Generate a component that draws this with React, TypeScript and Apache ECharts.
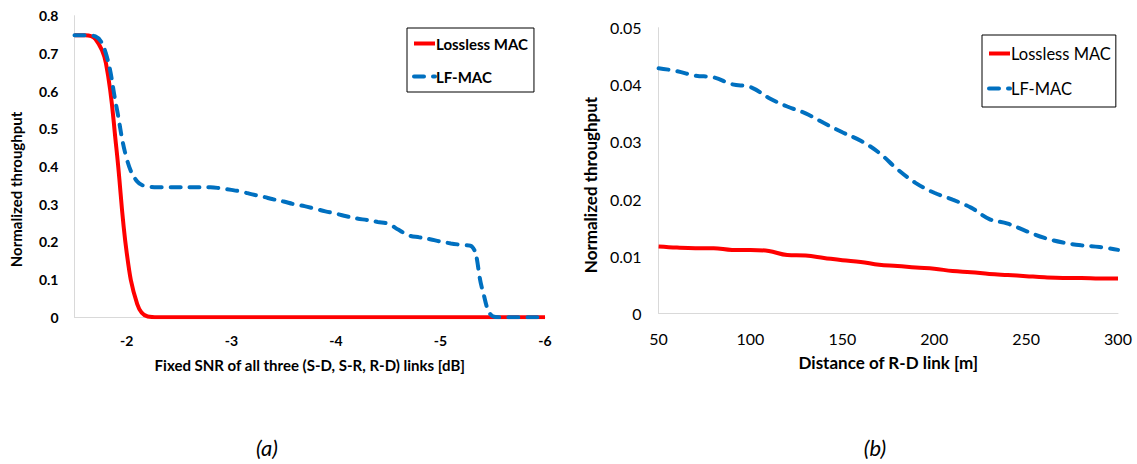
import React, { useEffect, useRef } from "react";
import * as echarts from "echarts";

// ---- Data: chart (a) ----
const snrDb = [
  -1.5, -1.6, -1.7, -1.8, -1.9, -2.0, -2.1, -2.2, -2.3, -2.4,
  -2.5, -2.6, -2.7, -2.8, -2.9, -3.0, -3.1, -3.2, -3.3, -3.4,
  -3.5, -3.6, -3.7, -3.8, -3.9, -4.0, -4.1, -4.2, -4.3, -4.4,
  -4.5, -4.6, -4.7, -4.8, -4.9, -5.0, -5.1, -5.2, -5.3, -5.4,
  -5.5, -5.6, -5.7, -5.8, -5.9, -6.0,
];
const losslessA = [
  0.748, 0.748, 0.738, 0.675, 0.45, 0.17, 0.035, 0.002, 0, 0,
  0, 0, 0, 0, 0, 0, 0, 0, 0, 0,
  0, 0, 0, 0, 0, 0, 0, 0, 0, 0,
  0, 0, 0, 0, 0, 0, 0, 0, 0, 0,
  0, 0, 0, 0, 0, 0,
];
const lfmacA = [
  0.748, 0.748, 0.745, 0.7, 0.56, 0.42, 0.36, 0.347, 0.345, 0.345,
  0.345, 0.345, 0.345, 0.345, 0.342, 0.338, 0.333, 0.326, 0.32, 0.313,
  0.307, 0.3, 0.295, 0.288, 0.281, 0.275, 0.268, 0.262, 0.258, 0.253,
  0.248, 0.232, 0.217, 0.212, 0.207, 0.201, 0.196, 0.192, 0.188, 0.075,
  0.003, 0, 0, 0, 0, 0,
];

// ---- Data: chart (b) ----
const distanceM = [
  50, 60, 70, 80, 90, 100, 110, 120, 130, 140, 150, 160, 170,
  180, 190, 200, 210, 220, 230, 240, 250, 260, 270, 280, 290, 300,
];
const losslessB = [
  0.0117, 0.0115, 0.0114, 0.0114, 0.0111, 0.0111, 0.0109, 0.0102, 0.0101,
  0.0097, 0.0093, 0.009, 0.0085, 0.0083, 0.008, 0.0078, 0.0074, 0.0072,
  0.0069, 0.0067, 0.0065, 0.0063, 0.0062, 0.0062, 0.0061, 0.0061,
];
const lfmacB = [
  0.0429, 0.0424, 0.0416, 0.0413, 0.0401, 0.0396, 0.0377, 0.0362, 0.035,
  0.0333, 0.0317, 0.0302, 0.0281, 0.0252, 0.0228, 0.0211, 0.0199, 0.0185,
  0.0165, 0.0157, 0.0144, 0.0132, 0.0124, 0.0119, 0.0116, 0.0111,
];

const seriesNames = ["Lossless MAC", "LF-MAC"];
const captions = ["(a)", "(b)"];
const yTitle = "Normalized throughput";
const xTitleA = "Fixed SNR of all three (S-D, S-R, R-D) links [dB]";
const xTitleB = "Distance of R-D link [m]";

const RED = "#FF0000";
const BLUE = "#0070C0";
const AXIS_GRAY = "#D9D9D9";
const FONT = "Lato";

const pairs = (xs: number[], ys: number[]) => xs.map((x, i) => [x, ys[i]]);

export default function App() {
  const ref = useRef<HTMLDivElement>(null);

  useEffect(() => {
    if (!ref.current) return;
    const chart = echarts.init(ref.current, null, { renderer: "svg" });

    const redLine = { color: RED, width: 4 };
    const blueLine = { color: BLUE, width: 4, type: [10, 9], cap: "round" };
    const hiddenSymbol = { color: "transparent", borderWidth: 0, opacity: 0 };

    chart.setOption({
      animation: false,
      backgroundColor: "#fff",
      textStyle: { fontFamily: FONT },
      grid: [
        { left: 74.5, top: 15.7, width: 470.5, height: 301.6 },
        { left: 658.6, top: 27.7, width: 459.4, height: 285.6 },
      ],
      xAxis: [
        {
          gridIndex: 0,
          type: "value",
          inverse: true,
          min: -6,
          max: -1.5,
          interval: 1,
          axisLine: { lineStyle: { color: AXIS_GRAY, width: 1 } },
          axisTick: { show: false },
          splitLine: { show: false },
          axisLabel: {
            margin: 16,
            fontFamily: FONT,
            fontSize: 14,
            fontWeight: "bold",
            color: "#000",
            formatter: (v: number) => (Number.isInteger(v) ? String(v) : ""),
          },
          name: xTitleA,
          nameLocation: "middle",
          nameGap: 40,
          nameTextStyle: { fontFamily: FONT, fontSize: 15, fontWeight: "bold", color: "#000" },
        },
        {
          gridIndex: 1,
          type: "value",
          min: 50,
          max: 300,
          interval: 50,
          axisLine: { lineStyle: { color: AXIS_GRAY, width: 1 } },
          axisTick: { show: false },
          splitLine: { show: false },
          axisLabel: { margin: 17, fontFamily: FONT, fontSize: 16, color: "#000" },
          name: xTitleB,
          nameLocation: "middle",
          nameGap: 41,
          nameTextStyle: { fontFamily: FONT, fontSize: 17, fontWeight: "bold", color: "#000" },
        },
      ],
      yAxis: [
        {
          gridIndex: 0,
          type: "value",
          min: 0,
          max: 0.8,
          interval: 0.1,
          axisLine: { show: true, lineStyle: { color: AXIS_GRAY, width: 1 } },
          axisTick: { show: false },
          splitLine: { show: false },
          axisLabel: { margin: 16, fontFamily: FONT, fontSize: 14, fontWeight: "bold", color: "#000" },
        },
        {
          gridIndex: 1,
          type: "value",
          min: 0,
          max: 0.05,
          interval: 0.01,
          axisLine: { show: true, lineStyle: { color: AXIS_GRAY, width: 1 } },
          axisTick: { show: false },
          splitLine: { show: false },
          axisLabel: { margin: 17, fontFamily: FONT, fontSize: 16, color: "#000" },
        },
      ],
      legend: [
        {
          data: seriesNames,
          orient: "vertical",
          left: 407,
          top: 28,
          padding: [8, 6, 8, 5],
          itemGap: 18,
          itemWidth: 21,
          itemHeight: 14,
          borderColor: "#000",
          borderWidth: 1,
          selectedMode: false,
          itemStyle: hiddenSymbol,
          lineStyle: { width: 4 },
          textStyle: {
            fontFamily: FONT,
            fontSize: 15,
            fontWeight: "bold",
            color: "#000",
            padding: [0, 0, 0, -4],
          },
        },
        {
          data: seriesNames,
          orient: "vertical",
          left: 982,
          top: 35,
          padding: [10, 5, 10, 5],
          itemGap: 18,
          itemWidth: 21,
          itemHeight: 16,
          borderColor: "#000",
          borderWidth: 1,
          selectedMode: false,
          itemStyle: hiddenSymbol,
          lineStyle: { width: 4 },
          textStyle: {
            fontFamily: FONT,
            fontSize: 16.5,
            color: "#000",
            padding: [0, 0, 0, -4],
          },
        },
      ],
      graphic: [
        {
          type: "text",
          x: 16,
          y: 189.5,
          rotation: Math.PI / 2,
          style: {
            text: yTitle,
            fontFamily: FONT,
            fontSize: 15,
            fontWeight: "bold",
            fill: "#000",
            align: "center",
            verticalAlign: "middle",
          },
        },
        {
          type: "text",
          x: 590,
          y: 185,
          rotation: Math.PI / 2,
          style: {
            text: yTitle,
            fontFamily: FONT,
            fontSize: 17,
            fontWeight: "bold",
            fill: "#000",
            align: "center",
            verticalAlign: "middle",
          },
        },
        {
          type: "text",
          x: 267,
          y: 447,
          style: {
            text: captions[0],
            fontFamily: FONT,
            fontSize: 22,
            fontStyle: "italic",
            fill: "#000",
            align: "center",
            verticalAlign: "middle",
          },
        },
        {
          type: "text",
          x: 875,
          y: 447,
          style: {
            text: captions[1],
            fontFamily: FONT,
            fontSize: 22,
            fontStyle: "italic",
            fill: "#000",
            align: "center",
            verticalAlign: "middle",
          },
        },
      ],
      series: [
        {
          name: seriesNames[0],
          type: "line",
          xAxisIndex: 0,
          yAxisIndex: 0,
          data: pairs(snrDb, losslessA),
          symbol: "none",
          smooth: 0.4,
          lineStyle: redLine,
          itemStyle: { color: RED },
        },
        {
          name: seriesNames[1],
          type: "line",
          xAxisIndex: 0,
          yAxisIndex: 0,
          data: pairs(snrDb, lfmacA),
          symbol: "none",
          smooth: 0.4,
          lineStyle: blueLine,
          itemStyle: { color: BLUE },
        },
        {
          name: seriesNames[0],
          type: "line",
          xAxisIndex: 1,
          yAxisIndex: 1,
          data: pairs(distanceM, losslessB),
          symbol: "none",
          smooth: 0.4,
          lineStyle: redLine,
          itemStyle: { color: RED },
        },
        {
          name: seriesNames[1],
          type: "line",
          xAxisIndex: 1,
          yAxisIndex: 1,
          data: pairs(distanceM, lfmacB),
          symbol: "none",
          smooth: 0.4,
          lineStyle: blueLine,
          itemStyle: { color: BLUE },
        },
      ],
    });

    return () => chart.dispose();
  }, []);

  return (
    <div
      ref={ref}
      style={{ position: "absolute", left: 0, top: 0, width: 1137, height: 464, background: "#fff" }}
    />
  );
}
